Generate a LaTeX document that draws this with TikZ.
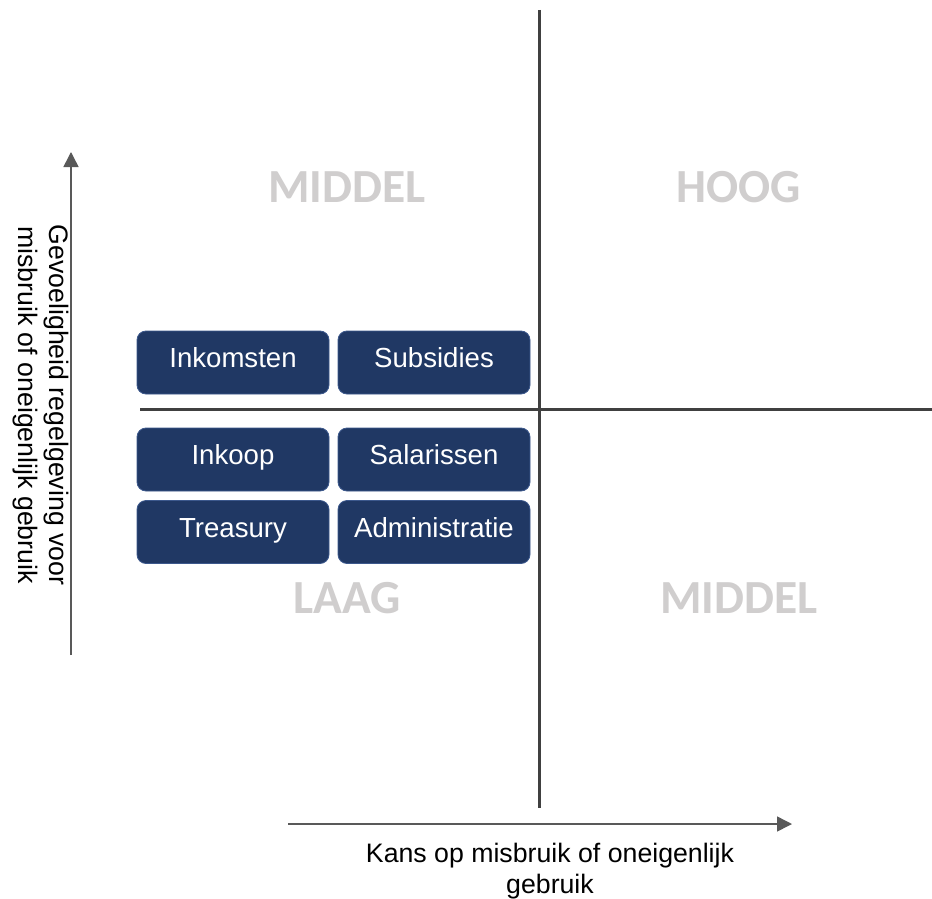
\documentclass[tikz,border=0pt]{standalone}
\usepackage{fontspec}
\setmainfont{Liberation Sans}
\newfontfamily\quadfont{Carlito}
\usetikzlibrary{arrows.meta}
\definecolor{boxblue}{RGB}{32,56,100}
\definecolor{boxedge}{RGB}{60,88,140}
\definecolor{quadline}{RGB}{64,64,64}
\definecolor{axisgray}{RGB}{89,89,89}
\definecolor{lblgray}{RGB}{208,206,206}
\tikzset{
  catbox/.style={draw=boxedge, line width=0.8pt, fill=boxblue, rounded corners=9pt,
    minimum width=192pt, minimum height=63pt, inner sep=0pt, text=white,
    font=\fontsize{27.6}{32}\selectfont, text height=20pt, text depth=9.5pt},
  quadlbl/.style={text=lblgray, font=\quadfont\bfseries\fontsize{47.5}{52}\selectfont,
    inner sep=0pt, text height=30pt, text depth=0pt},
  axislbl/.style={font=\fontsize{26.7}{31}\selectfont, inner sep=0pt, anchor=base},
  quadrule/.style={draw=quadline, line width=3pt},
  axisarrow/.style={draw=axisgray, line width=1.5pt, -{Triangle[length=15pt,width=15pt]}}
}
\begin{document}
\begin{tikzpicture}[x=1pt,y=-1pt]
\useasboundingbox[fill=white] (0,0) rectangle (932,899);
% quadrant rules
\coordinate (vtop) at (539,10);
\coordinate (vbot) at (539,808);
\coordinate (hleft) at (140,409);
\coordinate (hright) at (932,409);
\draw[quadrule] (vtop) -- (vbot);
\draw[quadrule] (hleft) -- (hright);
% axes
\coordinate (yfrom) at (71,655);
\coordinate (yto) at (71,152);
\coordinate (xfrom) at (288,824);
\coordinate (xto) at (792,824);
\draw[axisarrow] (yfrom) -- (yto);
\draw[axisarrow] (xfrom) -- (xto);
% quadrant labels
\node[quadlbl] (qtl) at (347,187) {MIDDEL};
\node[quadlbl] (qtr) at (739,187) {HOOG};
\node[quadlbl] (qbl) at (347,598) {LAAG};
\node[quadlbl] (qbr) at (739,598) {MIDDEL};
% boxes
\node[catbox] (inkomsten) at (233,362.5) {Inkomsten};
\node[catbox] (subsidies) at (434,362.5) {Subsidies};
\node[catbox] (inkoop) at (233,459.5) {Inkoop};
\node[catbox] (salarissen) at (434,459.5) {Salarissen};
\node[catbox] (treasury) at (233,532) {Treasury};
\node[catbox] (admin) at (434,532) {Administratie};
% axis labels
\node[axislbl, rotate=-90] (ylab1) at (49,405) {Gevoeligheid regelgeving voor};
\node[axislbl, rotate=-90] (ylab2) at (19,405) {misbruik of oneigenlijk gebruik};
\node[axislbl] (xlab1) at (550,862) {Kans op misbruik of oneigenlijk};
\node[axislbl] (xlab2) at (550,893) {gebruik};
\end{tikzpicture}
\end{document}
